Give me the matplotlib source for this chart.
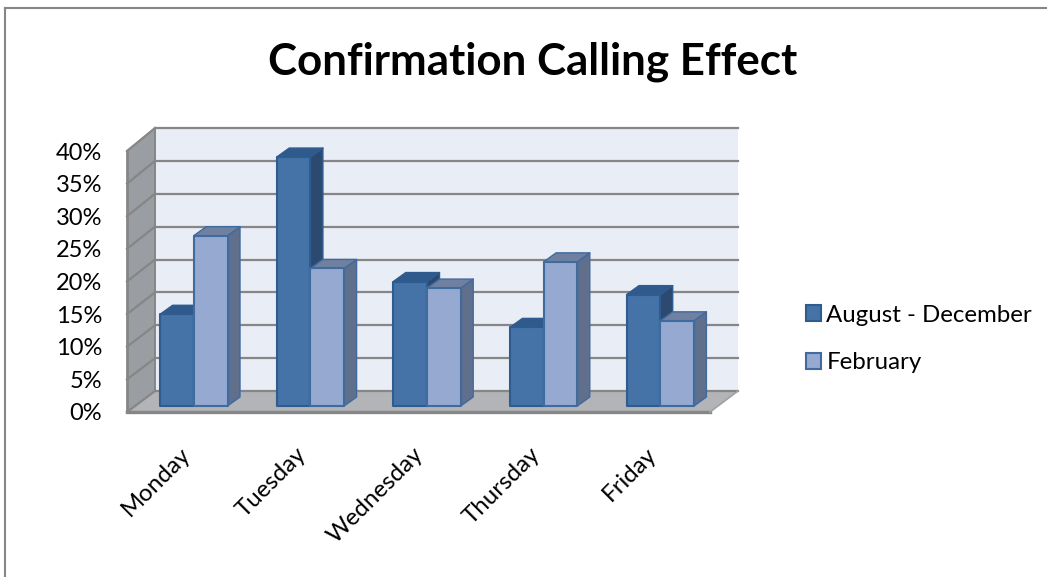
import matplotlib
matplotlib.use("Agg")
import matplotlib.pyplot as plt
from matplotlib.lines import Line2D
from matplotlib.patches import Patch, Polygon
from matplotlib.transforms import Affine2D, IdentityTransform

categories = ["Monday", "Tuesday", "Wednesday", "Thursday", "Friday"]
series_names = ["August - December", "February"]
aug_dec = [14, 38, 19, 12, 17]
february = [26, 21, 18, 22, 13]
y_ticks = [0, 5, 10, 15, 20, 25, 30, 35, 40]

W, H = 1047, 577
plt.rcParams["font.family"] = ["Lato", "DejaVu Sans"]
fig = plt.figure(figsize=(W / 100, H / 100), dpi=100, facecolor="white")
ax = fig.add_axes([127 / W, (H - 412) / H, (710 - 127) / W, (412 - 151) / H])
ax.set_xlim(-0.5, 4.5)
ax.set_ylim(0, 40)
for s in ax.spines.values():
    s.set_visible(False)
ax.patch.set_visible(False)
ax.set_xticks(range(5), categories, rotation=45, ha="right", rotation_mode="anchor", fontsize=17.3, color="black")
ax.set_yticks(y_ticks, [f"{v}%" for v in y_ticks], fontsize=17, color="black")
ax.tick_params(axis="both", length=0)
ax.tick_params(axis="y", pad=18)
ax.tick_params(axis="x", pad=20)
for lab in ax.get_xticklabels():
    lab.set_transform(lab.get_transform() + Affine2D().translate(-6, -4))

DX, DY = 28, 21   # wall depth, pixels
BACK = 263 / 261  # back plane is a little taller than the front


def pt(x, y, ox=0.0, oy=0.0):
    px, py = ax.transData.transform((x, y))
    return (px + ox, py + oy)


def back(x, y):
    return pt(x, y * BACK, DX, DY)


def poly(points, face, edge="none", lw=0.0, z=1):
    fig_patch = Polygon(points, closed=True, facecolor=face, edgecolor=edge, linewidth=lw,
                        transform=IdentityTransform(), zorder=z, clip_on=False, joinstyle="round")
    ax.add_patch(fig_patch)


L, R = -0.5, 4.5
# back wall, side wall, floor
poly([back(L, 0), back(R, 0), back(R, 40), back(L, 40)], "#e9edf6", z=1)
poly([pt(L, 0), back(L, 0), back(L, 40), pt(L, 40)], "#9a9da1", z=1)
poly([pt(L, 0), pt(R, 0), back(R, 0), back(L, 0)], "#b2b4b7", z=1)


def seg(a, b, color="#868686", lw=1.6, z=2):
    ax.add_line(Line2D([a[0], b[0]], [a[1], b[1]], color=color, lw=lw, transform=IdentityTransform(),
                       zorder=z, clip_on=False))


for v in y_ticks:
    seg(back(L, v), back(R, v))
    seg(pt(L, v), back(L, v))
seg(pt(L, 0), pt(L, 40), lw=2)
seg(back(L, 40), back(L, 0), lw=1.4)
seg(pt(L, 0), pt(R, 0), lw=2.4)
seg(pt(R, 0), back(R, 0), color="#a0a2a5", lw=1.2)

BW = 33.7 / 116.6   # bar width in category units
OX, OY = 8.5, 6     # bar plane offset from the front of the floor, pixels
BDX, BDY = 12.5, 9  # bar depth, pixels
BAR_SCALE = 1.004
STYLES = [
    dict(front="#4572a7", top="#2f5a8b", side="#2c4a70", edge="#2f5c8f"),
    dict(front="#95a9d1", top="#6f80a1", side="#5f6f8c", edge="#3f6b9f"),
]

for i in range(5):
    for j, vals in enumerate((aug_dec, february)):
        st = STYLES[j]
        x0 = i - BW + j * BW
        x1 = x0 + BW
        v = vals[i] * BAR_SCALE
        z = 5 + i * 3 + j * 3
        a = pt(x0, 0, OX, OY)
        b = pt(x1, 0, OX, OY)
        c = pt(x1, v, OX, OY)
        d = pt(x0, v, OX, OY)
        poly([b, c, (c[0] + BDX, c[1] + BDY), (b[0] + BDX, b[1] + BDY)], st["side"], st["edge"], 1.0, z)
        poly([d, c, (c[0] + BDX, c[1] + BDY), (d[0] + BDX, d[1] + BDY)], st["top"], st["edge"], 1.0, z + 1)
        poly([a, b, c, d], st["front"], st["edge"], 1.5, z + 2)

# title
fig.text(533 / W, 1 - 62 / H, "Confirmation Calling Effect", ha="center", va="center",
         fontsize=31.6, fontweight="bold", color="black")

# legend
handles = [
    Patch(facecolor=STYLES[0]["front"], edgecolor=STYLES[0]["edge"], linewidth=1.5),
    Patch(facecolor=STYLES[1]["front"], edgecolor=STYLES[1]["edge"], linewidth=1.5),
]
fig.legend(handles, series_names, loc="center left", bbox_to_anchor=(796 / W, 1 - 339 / H), frameon=False,
           fontsize=17.3, handlelength=0.66, handleheight=0.66, handletextpad=0.2, labelspacing=1.12,
           borderpad=0.4, borderaxespad=0)

# chart frame
fig.add_artist(Line2D([5 / W, 5 / W], [0, 1 - 8 / H], color="#868686", lw=1.5))
fig.add_artist(Line2D([5 / W, 1], [1 - 8 / H, 1 - 8 / H], color="#868686", lw=1.5))

fig.savefig("out.png", dpi=100, facecolor="white")
